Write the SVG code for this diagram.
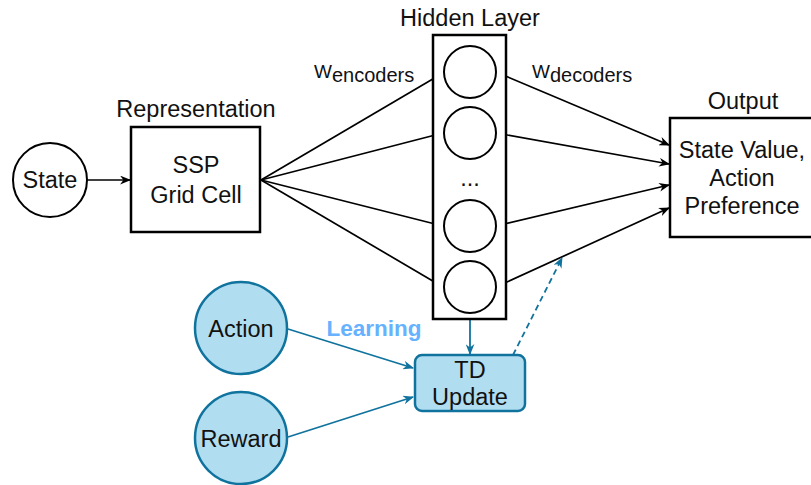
<svg xmlns="http://www.w3.org/2000/svg" width="811" height="485" viewBox="0 0 811 485">
  <defs>
    <marker id="arrowBlack" viewBox="0 0 10 8" refX="9" refY="4" markerWidth="11" markerHeight="9" markerUnits="userSpaceOnUse" orient="auto">
      <path d="M0,0 L10,4 L0,8 L3,4 z" fill="#000"/>
    </marker>
    <marker id="arrowBlue" viewBox="0 0 10 8" refX="9" refY="4" markerWidth="11" markerHeight="9" markerUnits="userSpaceOnUse" orient="auto">
      <path d="M0,0 L10,4 L0,8 L3,4 z" fill="#10739e"/>
    </marker>
    <style>
      text { font-family: "Liberation Sans", Arial, sans-serif; font-size: 23.5px; fill: #111; text-anchor: middle; }
      .box { fill: #fff; stroke: #000; stroke-width: 2.5; }
      .node { fill: #fff; stroke: #000; stroke-width: 2; }
      .blueNode { fill: #b1ddf0; stroke: #10739e; stroke-width: 2.5; }
      .edge { fill: none; stroke: #000; stroke-width: 1.7; marker-end: url(#arrowBlack); }
      .edgeBlue { fill: none; stroke: #10739e; stroke-width: 1.8; marker-end: url(#arrowBlue); }
      .dashed { stroke-dasharray: 6 4; }
      .w { font-size: 19px; text-anchor: start; }
      .sub { font-size: 20px; }
      .learn { fill: #66b2ff; font-weight: bold; font-size: 22.5px; }
    </style>
  </defs>

  <!-- labels -->
  <g id="labels">
    <text x="196" y="117">Representation</text>
    <text x="470" y="26">Hidden Layer</text>
    <text x="743" y="109">Output</text>
    <text class="w" x="314" y="78">W<tspan class="sub" dy="4">encoders</tspan></text>
    <text class="w" x="532" y="78">W<tspan class="sub" dy="4">decoders</tspan></text>
    <text class="learn" x="374" y="336">Learning</text>
  </g>

  <!-- connectors -->
  <g id="connectors">
    <line class="edge" x1="87" y1="180" x2="130" y2="180"/>
    <!-- encoders -->
    <line class="edge" x1="261" y1="180" x2="443" y2="73"/>
    <line class="edge" x1="261" y1="180" x2="443" y2="133"/>
    <line class="edge" x1="261" y1="180" x2="443" y2="226"/>
    <line class="edge" x1="261" y1="180" x2="443" y2="287"/>
    <!-- decoders -->
    <line class="edge" x1="496" y1="72" x2="669" y2="145"/>
    <line class="edge" x1="496" y1="133" x2="669" y2="164"/>
    <line class="edge" x1="496" y1="226" x2="669" y2="185"/>
    <line class="edge" x1="496" y1="287" x2="669" y2="208"/>
    <!-- learning -->
    <line class="edgeBlue" x1="470" y1="320" x2="470" y2="354"/>
    <line class="edgeBlue" x1="288" y1="329" x2="413" y2="368"/>
    <line class="edgeBlue" x1="288" y1="437" x2="413" y2="397"/>
    <line class="edgeBlue dashed" x1="513" y1="355" x2="562" y2="258"/>
  </g>

  <g id="state">
    <circle class="node" cx="50" cy="180" r="37"/>
    <text x="50" y="188">State</text>
  </g>

  <g id="representation">
    <rect class="box" x="131" y="127" width="129" height="105"/>
    <text x="196" y="173">SSP</text>
    <text x="196" y="203">Grid Cell</text>
  </g>

  <g id="hidden-layer">
    <rect class="box" x="433" y="35" width="73" height="284"/>
    <circle class="node" cx="470" cy="72" r="26"/>
    <circle class="node" cx="470" cy="133" r="26"/>
    <text x="470" y="186">...</text>
    <circle class="node" cx="470" cy="226" r="26"/>
    <circle class="node" cx="470" cy="287" r="26"/>
  </g>

  <g id="output">
    <rect class="box" x="670" y="118" width="145" height="119"/>
    <text x="742" y="158">State Value,</text>
    <text x="742" y="186">Action</text>
    <text x="742" y="214">Preference</text>
  </g>

  <g id="action">
    <circle class="blueNode" cx="241" cy="328" r="46"/>
    <text x="241" y="337">Action</text>
  </g>

  <g id="reward">
    <circle class="blueNode" cx="241" cy="438" r="46"/>
    <text x="241" y="447">Reward</text>
  </g>

  <g id="td-update">
    <rect class="blueNode" x="415" y="355" width="110" height="56" rx="7" ry="7"/>
    <text x="470" y="378">TD</text>
    <text x="470" y="405">Update</text>
  </g>
</svg>
